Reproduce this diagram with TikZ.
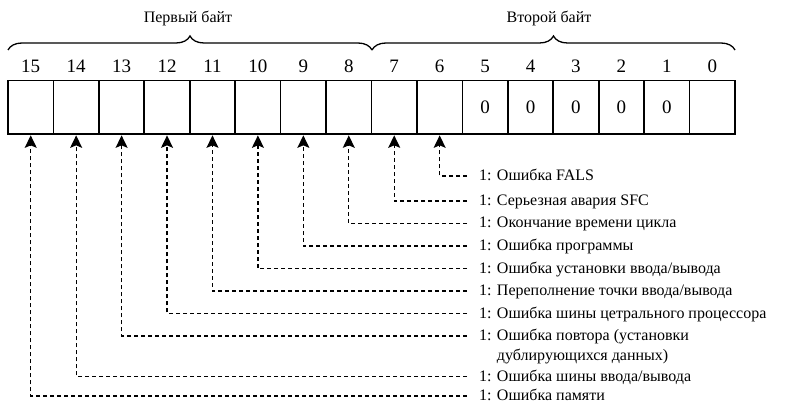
\documentclass[tikz,border=0pt]{standalone}
\usepackage{fontspec}
\setmainfont{Liberation Serif}
\usetikzlibrary{arrows.meta,decorations.pathreplacing}
\begin{document}
\begin{tikzpicture}[x=1pt,y=-1pt,
  cell/.style={draw=black, line width=1.7pt, minimum width=45.44pt, minimum height=53.5pt, inner sep=0pt, font=\fontsize{19}{22}\selectfont},
  bitnum/.style={anchor=base, inner sep=0pt, font=\fontsize{19}{22}\selectfont},
  lbl/.style={anchor=west, inner sep=0pt, text height=9pt, text depth=0pt, font=\fontsize{16}{19}\selectfont},
  hdr/.style={anchor=base, inner sep=0pt, font=\fontsize{16}{19}\selectfont},
  lead/.style={line width=1.3pt, dash pattern=on 4pt off 3pt, -{Stealth[length=12.5pt,width=12pt,inset=2.5pt]}, shorten <=12pt, shorten >=0.5pt},
  bracestyle/.style={decorate, decoration={brace, amplitude=14pt}, line width=1.3pt},
]
\useasboundingbox (0,0) rectangle (786,403);
\foreach \b in {0,...,15} {
  \pgfmathsetmacro\cx{8+45.4375*(15-\b)+22.72}
  \node[cell] (c\b) at (\cx,107.25) {\ifnum\b>0 \ifnum\b<6 0\fi\fi};
  \node[bitnum] (n\b) at (\cx,72.7) {\b};
}
\coordinate (bA) at (8,50);
\coordinate (bB) at (372,50);
\coordinate (bC) at (735,50);
\draw[bracestyle] (bA) -- (bB);
\draw[bracestyle] (bB) -- (bC);
\node[hdr] (h1) at (188,23) {Первый байт};
\node[hdr] (h2) at (549,23) {Второй байт};

\node[lbl] (l6) at (479,176) {1: Ошибка FALS};
\node[lbl] (l7) at (479,201) {1: Серьезная авария SFC};
\node[lbl] (l8) at (479,223.5) {1: Окончание времени цикла};
\node[lbl] (l9) at (479,246) {1: Ошибка программы};
\node[lbl] (l10) at (479,268.5) {1: Ошибка установки ввода/вывода};
\node[lbl] (l11) at (479,291) {1: Переполнение точки ввода/вывода};
\node[lbl] (l12) at (479,313.5) {1: Ошибка шины цетрального процессора};
\node[lbl] (l13) at (479,336) {1: Ошибка повтора (установки};
\node[lbl] (l13b) at (479,356) {\phantom{1: }дублирующихся данных)};
\node[lbl] (l14) at (479,376.5) {1: Ошибка шины ввода/вывода};
\node[lbl] (l15) at (479,396) {1: Ошибка памяти};

\foreach \b in {6,...,15} {
  \draw[lead] (l\b.west) -| (c\b.south);
}
\end{tikzpicture}
\end{document}
